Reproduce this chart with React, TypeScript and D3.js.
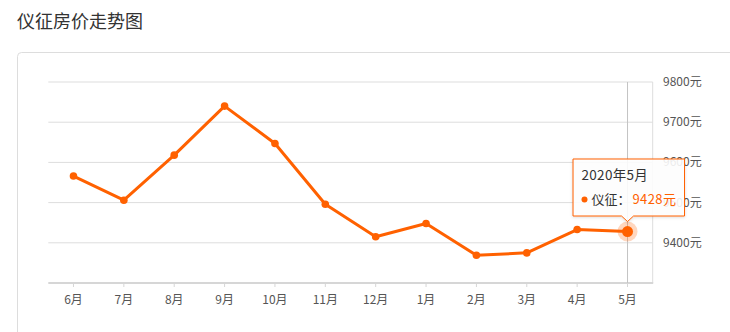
import React from "react";
import * as d3 from "d3";

const months = ["6月", "7月", "8月", "9月", "10月", "11月", "12月", "1月", "2月", "3月", "4月", "5月"];
const prices = [9566, 9506, 9618, 9740, 9647, 9496, 9415, 9448, 9369, 9375, 9433, 9428];
const yTicks = [9400, 9500, 9600, 9700, 9800];
const title = "仪征房价走势图";
const seriesName = "仪征";
const tooltipTitle = "2020年5月";

const ORANGE = "#ff6100";
const FONT = "'Noto Sans CJK SC', 'Noto Sans', sans-serif";

export default function App() {
  const W = 730, H = 332;
  const x = d3.scaleBand<string>().domain(months).range([48.3, 652.7]).paddingInner(0).paddingOuter(0);
  const y = d3.scaleLinear().domain([9300, 9800]).range([283, 82]);
  const cx = (m: string) => (x(m) as number) + x.bandwidth() / 2;
  const line = d3.line<number>().x((_, i) => cx(months[i])).y((d) => y(d));
  const last = prices.length - 1;
  const lx = cx(months[last]);
  const ly = y(prices[last]);
  const [x0, x1] = x.range();
  const y0 = y(9300), yTop = y(9800);

  // tooltip geometry
  const tL = lx - 54.5, tR = lx + 57, tT = 159, tB = 216;
  const tip = ly - 10;
  const tipPath = `M${tL},${tT} H${tR} V${tB} H${lx + 6} L${lx},${tip} L${lx - 6},${tB} H${tL} Z`;

  return (
    <svg width={W} height={H} style={{ position: "absolute", left: 0, top: 0, background: "#fff" }} fontFamily={FONT}>
      <defs>
        <filter id="sh" x="-20%" y="-20%" width="140%" height="150%">
          <feDropShadow dx="0" dy="1" stdDeviation="1.5" floodColor="#000" floodOpacity="0.15" />
        </filter>
      </defs>
      <text x={17} y={28} fontSize={18} fill="#333">{title}</text>
      <rect x={17.5} y={52.5} width={730} height={300} rx={4} fill="#fff" stroke="#ddd" />

      {yTicks.map((t) => (
        <line key={t} x1={x0} x2={x1} y1={y(t)} y2={y(t)} stroke="#ddd" strokeWidth={1} />
      ))}
      <line x1={x1} x2={x1} y1={yTop} y2={y0} stroke="#ddd" strokeWidth={1} />
      <line x1={x0} x2={x1 + 0.5} y1={y0} y2={y0} stroke="#d6d6d6" strokeWidth={2} />
      {months.map((m) => (
        <g key={m}>
          <line x1={cx(m)} x2={cx(m)} y1={y0} y2={y0 + 4} stroke="#d6d6d6" />
          <text x={cx(m)} y={303.5} fontSize={12} fill="#555" textAnchor="middle">{m}</text>
        </g>
      ))}
      {yTicks.map((t) => (
        <text key={t} x={663} y={y(t) + 4} fontSize={12} fill="#555">{t}元</text>
      ))}

      <line x1={lx} x2={lx} y1={yTop} y2={y0} stroke="#c4c4c4" strokeWidth={1} />

      <path d={line(prices) || ""} fill="none" stroke={ORANGE} strokeWidth={3} strokeLinejoin="round" />
      {prices.map((v, i) => (
        <circle key={i} cx={cx(months[i])} cy={y(v)} r={3.8} fill={ORANGE} />
      ))}
      <circle cx={lx} cy={ly} r={10} fill={ORANGE} opacity={0.25} />
      <circle cx={lx} cy={ly} r={5.5} fill={ORANGE} />

      <path d={tipPath} fill="#fff" fillOpacity={0.88} stroke={ORANGE} strokeWidth={1} filter="url(#sh)" />
      <text x={581.5} y={179.5} fontSize={13.5} fill="#333" letterSpacing={0.3}>{tooltipTitle}</text>
      <circle cx={584.5} cy={199.5} r={3} fill={ORANGE} />
      <text x={591.5} y={204} fontSize={13} fill="#333">{seriesName}：</text>
      <text x={632.5} y={204} fontSize={13} fill={ORANGE} letterSpacing={0.4}>{prices[last]}元</text>
    </svg>
  );
}
